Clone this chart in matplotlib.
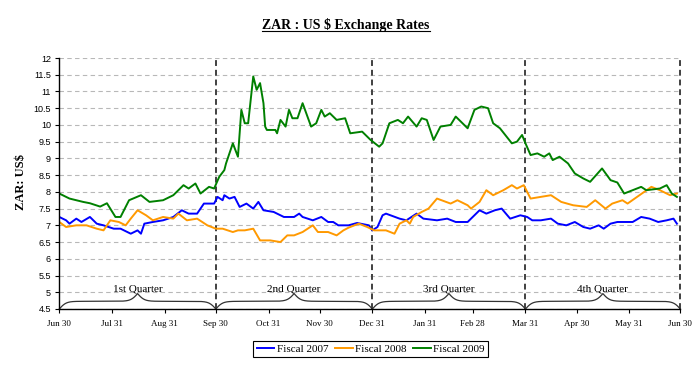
import numpy as np
import matplotlib
matplotlib.use('Agg')
import matplotlib.pyplot as plt

# days counted from Jun 30 (start of fiscal year)
days_2007 = [0, 4, 6, 10, 13, 18, 22, 26, 32, 36, 42, 46, 48, 50, 55, 61, 67, 72, 76, 81,
             85, 91, 93, 96, 97, 100, 103, 106, 110, 114, 117, 120, 126, 132, 138, 141, 143,
             149, 154, 158, 161, 164, 170, 175, 182, 184, 187, 190, 192, 200, 204, 210, 214,
             222, 228, 233, 240, 243, 247, 251, 256, 260, 265, 271, 275, 278, 283, 289, 293,
             298, 303, 308, 312, 317, 320, 324, 328, 334, 337, 342, 347, 352, 357, 361, 363]
fiscal_2007 = [7.25, 7.15, 7.05, 7.2, 7.1, 7.25, 7.05, 7.0, 6.9, 6.9, 6.75, 6.85, 6.75, 7.05,
               7.1, 7.15, 7.25, 7.45, 7.35, 7.35, 7.65, 7.65, 7.85, 7.75, 7.9, 7.8, 7.85, 7.55,
               7.65, 7.5, 7.7, 7.45, 7.4, 7.25, 7.25, 7.35, 7.25, 7.15, 7.25, 7.1, 7.1, 7.0,
               7.0, 7.07, 7.0, 6.85, 6.95, 7.3, 7.35, 7.2, 7.15, 7.35, 7.2, 7.15, 7.2, 7.1, 7.1,
               7.25, 7.45, 7.35, 7.45, 7.5, 7.2, 7.3, 7.25, 7.15, 7.15, 7.2, 7.05, 7.0, 7.1,
               6.95, 6.9, 7.0, 6.9, 7.05, 7.1, 7.1, 7.1, 7.25, 7.2, 7.1, 7.15, 7.2, 7.05]

days_2008 = [0, 4, 10, 16, 22, 26, 30, 35, 39, 42, 46, 51, 55, 61, 67, 70, 75, 81, 87, 92,
             96, 102, 105, 109, 114, 118, 124, 130, 134, 138, 143, 149, 152, 158, 163, 167,
             170, 176, 181, 185, 192, 197, 200, 204, 206, 208, 213, 217, 222, 230, 234, 240,
             242, 247, 251, 255, 261, 266, 269, 273, 277, 283, 289, 295, 302, 310, 315, 321,
             325, 331, 334, 341, 348, 353, 359, 363]
fiscal_2008 = [7.1, 6.95, 7.0, 7.0, 6.9, 6.85, 7.15, 7.1, 7.0, 7.2, 7.45, 7.3, 7.15, 7.25,
               7.2, 7.35, 7.15, 7.2, 7.0, 6.9, 6.9, 6.8, 6.85, 6.85, 6.9, 6.55, 6.55, 6.5, 6.7,
               6.7, 6.8, 7.0, 6.8, 6.8, 6.7, 6.85, 6.93, 7.05, 6.95, 6.85, 6.85, 6.75, 7.05,
               7.15, 7.05, 7.25, 7.4, 7.5, 7.8, 7.65, 7.75, 7.6, 7.5, 7.7, 8.05, 7.9, 8.05, 8.2,
               8.1, 8.2, 7.8, 7.85, 7.9, 7.7, 7.6, 7.55, 7.75, 7.5, 7.65, 7.75, 7.65, 7.9, 8.15,
               8.05, 7.9, 7.95]

days_2009 = [0, 6, 14, 18, 24, 28, 33, 36, 41, 48, 53, 61, 67, 73, 76, 80, 83, 88, 91, 94,
             97, 98, 100, 102, 105, 107, 109, 111, 114, 116, 118, 120, 121, 122, 127, 128,
             130, 133, 135, 137, 140, 143, 148, 151, 154, 156, 159, 163, 168, 171, 178, 181,
             183, 188, 190, 194, 199, 202, 205, 210, 213, 216, 220, 224, 230, 233, 240, 244,
             248, 252, 255, 259, 266, 269, 272, 274, 277, 281, 285, 288, 290, 294, 299, 303,
             308, 312, 319, 324, 328, 332, 337, 342, 345, 353, 357, 360, 363]
fiscal_2009 = [7.95, 7.8, 7.7, 7.66, 7.56, 7.66, 7.25, 7.25, 7.75, 7.9, 7.7, 7.75, 7.9, 8.2,
               8.1, 8.25, 7.95, 8.15, 8.1, 8.45, 8.65, 8.85, 9.15, 9.45, 9.05, 10.45, 10.05,
               10.05, 11.45, 11.05, 11.25, 10.65, 9.95, 9.85, 9.85, 9.75, 10.15, 9.95, 10.45,
               10.2, 10.2, 10.65, 9.95, 10.05, 10.45, 10.25, 10.35, 10.15, 10.2, 9.75, 9.8,
               9.65, 9.55, 9.35, 9.45, 10.05, 10.15, 10.05, 10.25, 9.95, 10.2, 10.15, 9.55,
               9.95, 10.0, 10.25, 9.9, 10.45, 10.55, 10.5, 10.05, 9.9, 9.45, 9.5, 9.7, 9.45,
               9.1, 9.15, 9.05, 9.15, 8.95, 9.05, 8.85, 8.55, 8.4, 8.3, 8.7, 8.35, 8.28, 7.95,
               8.05, 8.15, 8.05, 8.1, 8.2, 7.95, 7.85]

tick_days = [0, 31, 62, 92, 123, 153, 184, 215, 243, 274, 304, 335, 365]
tick_labels = ['Jun 30', 'Jul 31', 'Aug 31', 'Sep 30', 'Oct 31', 'Nov 30', 'Dec 31',
               'Jan 31', 'Feb 28', 'Mar 31', 'Apr 30', 'May 31', 'Jun 30']
quarter_edges = [0, 92, 184, 274, 365]
quarter_names = ['1st Quarter', '2nd Quarter', '3rd Quarter', '4th Quarter']

SERIF = 'Liberation Serif'
SANS = 'Liberation Sans'


def brace(x0, x1, base=4.5, h=0.46, beta=0.5):
    # curly brace, ends down on the axis, tip pointing up in the middle
    n = 301
    xs = np.linspace(x0, x1, n)
    half = xs[:n // 2 + 1]
    yh = 1 / (1 + np.exp(-beta * (half - half[0]))) + 1 / (1 + np.exp(-beta * (half - half[-1])))
    ys = np.concatenate([yh, yh[-2::-1]])
    return xs, base + (ys - 0.5) * h


fig = plt.figure(figsize=(6.94, 3.66), dpi=100)
ax = fig.add_axes([59.3 / 694, 1 - 309 / 366, 621 / 694, 251 / 366])

ax.plot(days_2007, fiscal_2007, color='#0000ff', lw=1.4, label='Fiscal 2007')
ax.plot(days_2008, fiscal_2008, color='#ff9900', lw=1.4, label='Fiscal 2008')
ax.plot(days_2009, fiscal_2009, color='#008000', lw=1.4, label='Fiscal 2009')

ax.set_xlim(0, 365)
ax.set_ylim(4.5, 12)
yt = np.arange(4.5, 12.01, 0.5)
ax.set_yticks(yt)
ax.set_yticklabels(['%g' % v for v in yt], fontfamily=SANS, fontsize=6.5)
ax.set_xticks(tick_days)
ax.set_xticklabels(tick_labels, fontfamily=SERIF, fontsize=6.5)
ax.tick_params(axis='y', length=3, pad=3, width=0.8)
ax.tick_params(axis='x', length=3, pad=5, width=0.8)

ax.yaxis.grid(True, color='#b8b8b8', ls=(0, (4, 3)), lw=0.8)
ax.set_axisbelow(True)
for s in ['top', 'right']:
    ax.spines[s].set_visible(False)
for s in ['left', 'bottom']:
    ax.spines[s].set_linewidth(1.0)

for e in quarter_edges[1:]:
    ax.axvline(e, color='#404040', lw=1.4, ls=(0, (3, 2)), clip_on=False, zorder=1)

for a, b, name in zip(quarter_edges[:-1], quarter_edges[1:], quarter_names):
    bx, by = brace(a, b)
    ax.plot(bx, by, color='#333333', lw=0.9, clip_on=False)
    ax.text((a + b) / 2, 5.03, name, ha='center', va='baseline',
            fontfamily=SERIF, fontsize=8)

fig.text(21 / 694, 1 - 182 / 366, 'ZAR: US$', rotation=90, ha='center', va='center',
         fontfamily=SERIF, fontsize=9, fontweight='bold')

title_y = 1 - 29.5 / 366
title = fig.text(346 / 694, title_y, 'ZAR : US $ Exchange Rates', ha='center',
                 va='baseline', fontfamily=SERIF, fontsize=10, fontweight='bold')
fig.canvas.draw()
bb = title.get_window_extent().transformed(fig.transFigure.inverted())
fig.add_artist(plt.Line2D([bb.x0, bb.x1], [title_y - 1.5 / 366] * 2,
                          color='black', lw=0.8, transform=fig.transFigure))

leg = fig.legend(loc='center', bbox_to_anchor=(370.5 / 694, 1 - 349 / 366), ncol=3,
                 frameon=True, fancybox=False, edgecolor='black', framealpha=1,
                 prop={'family': SERIF, 'size': 8}, handlelength=1.6,
                 handletextpad=0.2, columnspacing=0.6, borderpad=0.3)
leg.get_frame().set_linewidth(0.8)

fig.savefig('out.png', dpi=100)
